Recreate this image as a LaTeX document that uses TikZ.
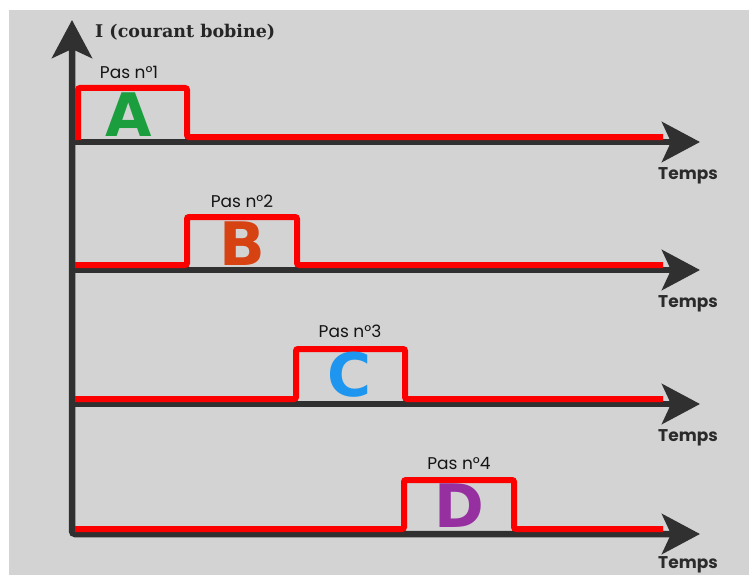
\documentclass[tikz,border=0pt]{standalone}
\usepackage{fontspec}
\usepackage{tikz}
\usetikzlibrary{arrows.meta, positioning}
\definecolor{fondgris}{RGB}{211,211,211}
\definecolor{axegris}{RGB}{48,48,48}
\definecolor{rougepas}{RGB}{252,0,0}
\definecolor{vertA}{RGB}{26,158,62}
\definecolor{orangeB}{RGB}{214,66,18}
\definecolor{bleuC}{RGB}{30,150,240}
\definecolor{violetD}{RGB}{150,48,160}
\newfontfamily\titrefont{DejaVu Serif}
\newfontfamily\pasfont{Poppins}
\newfontfamily\lettrefont{DejaVu Sans}
\tikzset{
>={Stealth[length=38pt, width=40pt, inset=9pt]}, % big dark arrow heads
axe/.style={line width=6.5pt, draw=axegris, ->}, % the time axes
signal/.style={line width=6pt, draw=rougepas, rounded corners=2pt,
  preaction={draw=black, draw opacity=.35, transform canvas={shift={(1.5pt,-2pt)}}}}, % red current, with its shadow
lettre/.style={font=\lettrefont\bfseries\fontsize{60pt}{60pt}\selectfont, inner sep=0pt}, % A, B, C, D
pas/.style={font=\pasfont\fontsize{17pt}{17pt}\selectfont, text=black!92, inner sep=0pt}, % step labels
temps/.style={font=\pasfont\bfseries\fontsize{17pt}{17pt}\selectfont, text=axegris!90!black, inner sep=0pt},
titre/.style={font=\titrefont\bfseries\fontsize{17.5pt}{17.5pt}\selectfont, text=black!85, inner sep=0pt},
}
\begin{document}
\begin{tikzpicture}[x=1pt, y=-1pt]
        \useasboundingbox (0,0) rectangle (749,575);
        \fill[fondgris] (9,10) rectangle (749,575);

        % axes
        \coordinate (ytip) at (72,20);
        \coordinate (o) at (72,534);
        \coordinate (a1) at (72,142);
        \coordinate (a2) at (72,270);
        \coordinate (a3) at (72,404);
        \coordinate (t1) at (700,142);
        \coordinate (t2) at (700,270);
        \coordinate (t3) at (700,404);
        \coordinate (t4) at (700,534);

        \draw[axe, <->, rounded corners=3pt] (ytip) -- (o) -- (t4);
        \draw[axe] (a1) -- (t1);
        \draw[axe] (a2) -- (t2);
        \draw[axe] (a3) -- (t3);

        % current in each coil
        \draw[signal] (78,140) -- (78,88) -- (187,88) -- (187,137) -- (663,137);
        \draw[signal] (75,265) -- (187,265) -- (187,217) -- (297,217) -- (297,265) -- (663,265);
        \draw[signal] (75,399) -- (296,399) -- (296,349) -- (405,349) -- (405,399) -- (663,399);
        \draw[signal] (75,529) -- (404,529) -- (404,480) -- (514,480) -- (514,529) -- (663,529);

        % labels
        \node[titre, anchor=west] (titre) at (95,32) {I (courant bobine)};

        \node[lettre, text=vertA] (A) at (129,115) {A};
        \node[lettre, text=orangeB] (B) at (242,244) {B};
        \node[lettre, text=bleuC] (C) at (350,375) {C};
        \node[lettre, text=violetD] (D) at (459,506) {D};

        \node[pas, above=14pt of A] (pas1) {Pas n°1};
        \node[pas, above=14pt of B] (pas2) {Pas n°2};
        \node[pas, above=14pt of C] (pas3) {Pas n°3};
        \node[pas, above=14pt of D] (pas4) {Pas n°4};

        \node[temps, below=25pt of t1, xshift=-12pt] (temps1) {Temps};
        \node[temps, below=25pt of t2, xshift=-12pt] (temps2) {Temps};
        \node[temps, below=25pt of t3, xshift=-12pt] (temps3) {Temps};
        \node[temps, below=22pt of t4, xshift=-12pt] (temps4) {Temps};
      \end{tikzpicture}
\end{document}
